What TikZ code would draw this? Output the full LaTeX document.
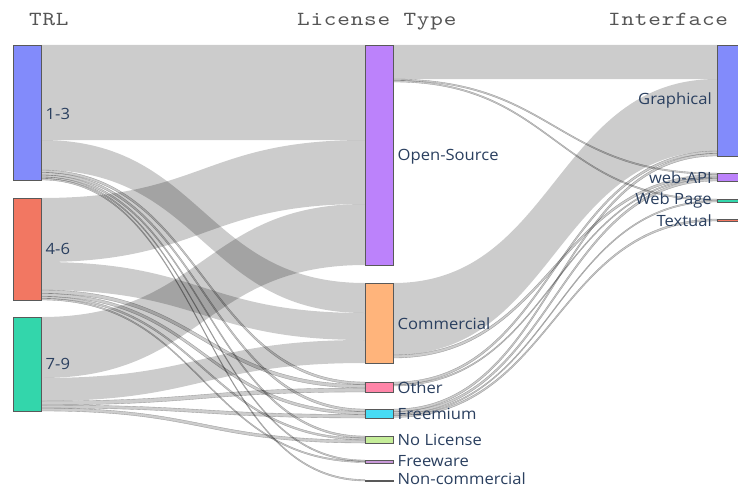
\documentclass[tikz,border=0pt]{standalone}
\usepackage{fontspec}
\setmainfont{Open Sans}[FakeStretch=1.07]
\newfontfamily\titlefont{lmmono10-regular.otf}[FakeStretch=1.2,LetterSpace=4]
\usetikzlibrary{calc}
\definecolor{cA}{HTML}{828BFB}
\definecolor{cB}{HTML}{F27762}
\definecolor{cC}{HTML}{33D6AB}
\definecolor{cD}{HTML}{BC82FB}
\definecolor{cE}{HTML}{FFB47B}
\definecolor{cF}{HTML}{47DCF5}
\definecolor{cG}{HTML}{FF85A8}
\definecolor{cH}{HTML}{C5ED99}
\definecolor{cI}{HTML}{C898D8}
\definecolor{cJ}{HTML}{B8A070}
\definecolor{labcol}{HTML}{2A3F5F}
\definecolor{titcol}{HTML}{555555}
\tikzset{
  nodebox/.style={draw=black!65, line width=0.5pt, inner sep=0pt, minimum width=28pt, anchor=north west},
  link/.style={fill=black, fill opacity=0.2},
  thinlink/.style={fill=black, fill opacity=0.2, draw=black, draw opacity=0.3, line width=0.35pt},
  lab/.style={text=labcol, font=\fontsize{15.5}{17}\selectfont, inner sep=0pt},
  ttl/.style={text=titcol, font=\titlefont\fontsize{20}{22}\selectfont, inner sep=0pt, anchor=base west}
}
% \band[style]{src}{top}{bottom}{dst}{top}{bottom}
\newcommand\band[7][link]{%
  \fill[#1] let \p1=(#2.east), \p2=(#5.west), \p3=($(\p1)!0.5!(\p2)$) in
  (\x1,-#3pt) .. controls (\x3,-#3pt) and (\x3,-#6pt) .. (\x2,-#6pt)
  -- (\x2,-#7pt) .. controls (\x3,-#7pt) and (\x3,-#4pt) .. (\x1,-#4pt) -- cycle;}
\begin{document}
\begin{tikzpicture}[x=1pt,y=-1pt]
\useasboundingbox (0,0) rectangle (738,487);
\clip (0,0) rectangle (738,487);
% node boxes (invisible first for naming; drawn later on top)
\path
  (13,45)  node[nodebox, draw=none, minimum height=135pt] (t13) {}
  (13,198) node[nodebox, draw=none, minimum height=102pt] (t46) {}
  (13,317) node[nodebox, draw=none, minimum height=94pt] (t79) {}
  (365,45)  node[nodebox, draw=none, minimum height=220pt] (os) {}
  (365,283) node[nodebox, draw=none, minimum height=80pt] (com) {}
  (365,382) node[nodebox, draw=none, minimum height=10pt] (oth) {}
  (365,409) node[nodebox, draw=none, minimum height=9pt] (frm) {}
  (365,436) node[nodebox, draw=none, minimum height=7pt] (nol) {}
  (365,460) node[nodebox, draw=none, minimum height=2.5pt] (frw) {}
  (365,479.5) node[nodebox, draw=none, minimum height=1.5pt] (ncm) {}
  (717,45)  node[nodebox, draw=none, minimum height=111pt] (gra) {}
  (717,173) node[nodebox, draw=none, minimum height=8pt] (api) {}
  (717,199) node[nodebox, draw=none, minimum height=3pt] (web) {}
  (717,219) node[nodebox, draw=none, minimum height=2pt] (txt) {};
% links TRL -> License
\band{t13}{45}{140}{os}{45}{140}
\band{t13}{140}{170}{com}{283}{313}
\band[thinlink]{t13}{170}{172.5}{oth}{382}{384.5}
\band[thinlink]{t13}{172.5}{175}{frm}{409}{411.5}
\band[thinlink]{t13}{175}{177}{nol}{436}{438}
\band[thinlink]{t13}{177}{178.5}{frw}{460}{461.5}
\band[thinlink]{t13}{178.5}{180}{ncm}{479.5}{481}
\band{t46}{198}{262}{os}{140}{204}
\band{t46}{262}{290}{com}{313}{340}
\band[thinlink]{t46}{290}{293.5}{oth}{384.5}{388}
\band[thinlink]{t46}{293.5}{296.5}{frm}{411.5}{414.5}
\band[thinlink]{t46}{296.5}{298.5}{nol}{438}{440}
\band[thinlink]{t46}{298.5}{300}{frw}{461}{462.5}
\band{t79}{317}{378}{os}{204}{265}
\band{t79}{378}{401}{com}{340}{363}
\band[thinlink]{t79}{401}{405}{oth}{388}{392}
\band[thinlink]{t79}{405}{408}{frm}{414.5}{418}
\band[thinlink]{t79}{408}{411}{nol}{440}{443}
% links License -> Interface
\band{os}{45}{79}{gra}{45}{79}
\band[thinlink]{os}{79}{80.5}{api}{173}{174.5}
\band[thinlink]{os}{80.5}{82}{web}{199}{200.5}
\band{com}{283}{355}{gra}{79}{151}
\band[thinlink]{com}{355}{358}{api}{174.5}{177}
\band[thinlink]{oth}{382}{384.5}{gra}{151}{153.5}
\band[thinlink]{oth}{384.5}{386}{api}{177}{178.5}
\band[thinlink]{frm}{409}{411.5}{gra}{153.5}{156}
\band[thinlink]{frm}{411.5}{414}{api}{178.5}{181}
\band[thinlink]{frm}{414}{415.5}{web}{200.5}{202}
\band[thinlink]{frm}{415.5}{417.5}{txt}{219}{221}
% visible node boxes
\path
  (13,45)  node[nodebox, fill=cA, minimum height=135pt] {}
  (13,198) node[nodebox, fill=cB, minimum height=102pt] {}
  (13,317) node[nodebox, fill=cC, minimum height=94pt] {}
  (365,45)  node[nodebox, fill=cD, minimum height=220pt] {}
  (365,283) node[nodebox, fill=cE, minimum height=80pt] {}
  (365,382) node[nodebox, fill=cG, minimum height=10pt] {}
  (365,409) node[nodebox, fill=cF, minimum height=9pt] {}
  (365,436) node[nodebox, fill=cH, minimum height=7pt] {}
  (365,460) node[nodebox, fill=cI, minimum height=2.5pt] {}
  (365,479.5) node[nodebox, fill=cJ, minimum height=1.5pt] {}
  (717,45)  node[nodebox, fill=cA, minimum height=111pt] {}
  (717,173) node[nodebox, fill=cD, minimum height=8pt] {}
  (717,199) node[nodebox, fill=cC, minimum height=3pt] {}
  (717,219) node[nodebox, fill=cB, minimum height=2pt] {};
% labels
\node[lab, anchor=west] (l13) at ([xshift=4pt,yshift=-1pt]t13.east) {1-3};
\node[lab, anchor=west] (l46) at ([xshift=4pt]t46.east) {4-6};
\node[lab, anchor=west] (l79) at ([xshift=4pt]t79.east) {7-9};
\node[lab, anchor=west] (los) at ([xshift=4pt,yshift=-1pt]os.east) {Open-Source};
\node[lab, anchor=west] (lcom) at ([xshift=4pt]com.east) {Commercial};
\node[lab, anchor=west] (loth) at ([xshift=4pt]oth.east) {Other};
\node[lab, anchor=west] (lfrm) at ([xshift=4pt]frm.east) {Freemium};
\node[lab, anchor=west] (lnol) at ([xshift=4pt]nol.east) {No License};
\node[lab, anchor=west] (lfrw) at ([xshift=4pt]frw.east) {Freeware};
\node[lab, anchor=west] (lncm) at ([xshift=4pt,yshift=1.5pt]ncm.east) {Non-commercial};
\node[lab, anchor=east] (lgra) at ([xshift=-5pt]gra.west) {Graphical};
\node[lab, anchor=east] (lapi) at ([xshift=-5pt]api.west) {web-API};
\node[lab, anchor=east] (lweb) at ([xshift=-5pt]web.west) {Web Page};
\node[lab, anchor=east] (ltxt) at ([xshift=-5pt]txt.west) {Textual};
% titles
\node[ttl] (h1) at (29,26) {TRL};
\node[ttl] (h2) at (297,26) {License Type};
\node[ttl] (h3) at (608,26) {Interface};
\end{tikzpicture}
\end{document}
